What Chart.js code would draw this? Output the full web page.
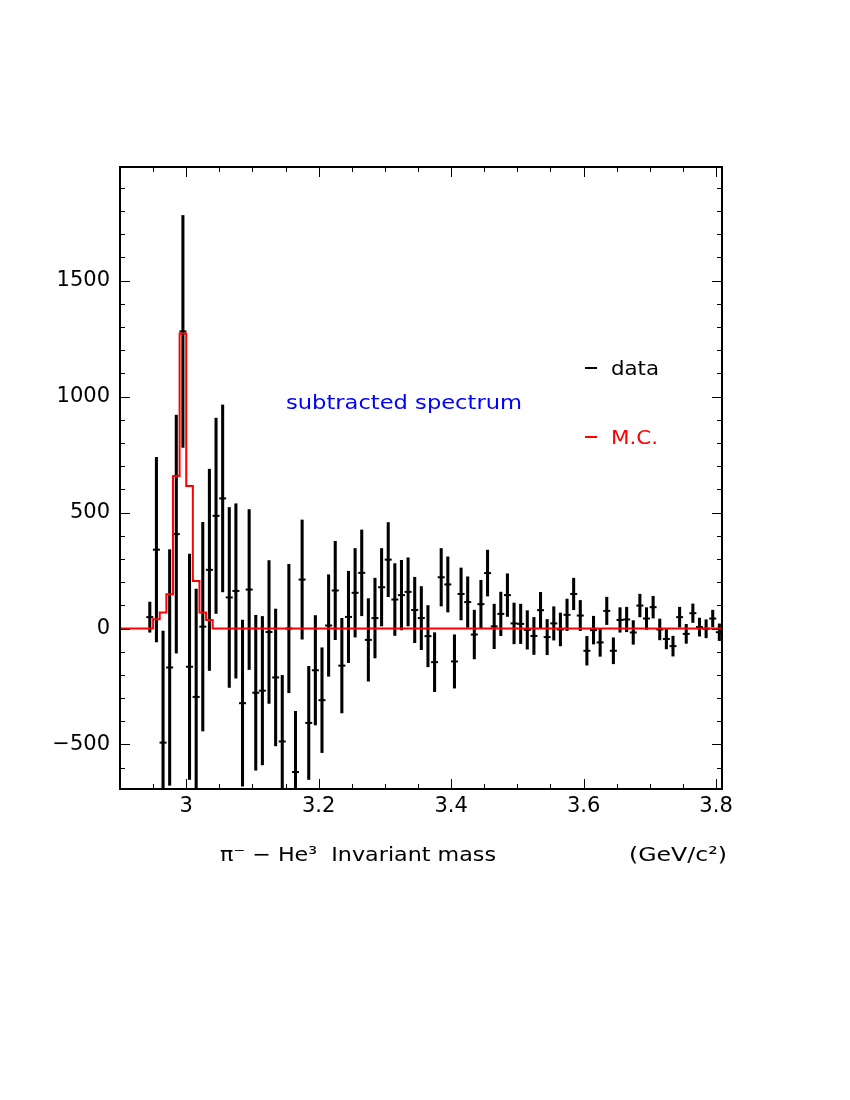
<!DOCTYPE html>
<html><head><meta charset="utf-8">
<script src="https://cdn.jsdelivr.net/npm/chart.js@4.4.1/dist/chart.umd.min.js"></script>
<style>html,body{margin:0;padding:0;background:#fff}canvas{display:block}</style>
</head><body>
<canvas id="c" width="850" height="1100" style="width:850px;height:1100px"></canvas>
<script>
// ---- data ----
const massBins = [2.945,2.955,2.965,2.975,2.985,2.995,3.005,3.015,3.025,3.035,3.045,3.055,3.065,3.075,3.085,3.095,3.105,3.115,3.125,3.135,3.145,3.155,3.165,3.175,3.185,3.195,3.205,3.215,3.225,3.235,3.245,3.255,3.265,3.275,3.285,3.295,3.305,3.315,3.325,3.335,3.345,3.355,3.365,3.375,3.385,3.395,3.405,3.415,3.425,3.435,3.445,3.455,3.465,3.475,3.485,3.495,3.505,3.515,3.525,3.535,3.545,3.555,3.565,3.575,3.585,3.595,3.605,3.615,3.625,3.635,3.645,3.655,3.665,3.675,3.685,3.695,3.705,3.715,3.725,3.735,3.745,3.755,3.765,3.775,3.785,3.795,3.805];
const dataValues = [49,340,-492,-168,407,1281,-165,-295,8,253,486,561,134,162,-322,168,-277,-268,-15,-211,-487,0,-619,211,-407,-180,-309,13,164,-160,50,154,240,-49,45,178,297,125,144,158,80,45,-33,-145,221,190,-142,149,114,-26,105,239,9,63,144,22,20,-6,-32,79,-37,22,-4,59,149,56,-96,-7,-60,76,-96,37,39,-17,99,43,92,-4,-45,-76,49,-23,66,6,-1,43,-16];
const dataErrors = [65,398,481,508,513,500,486,465,450,434,421,403,388,376,358,345,334,320,308,295,285,277,262,257,244,236,226,219,212,204,197,191,185,178,172,167,160,155,150,147,141,136,132,127,124,119,115,112,109,105,103,99,96,94,92,88,85,83,80,77,76,72,71,68,68,65,62,60,60,59,56,53,53,51,49,47,47,45,43,43,43,41,40,39,39,36,36];
const mcEdges  = [2.90,2.95,2.96,2.97,2.98,2.99,3.00,3.01,3.02,3.03,3.04,3.81];
const mcValues = [0,40,69,148,658,1272,615,205,69,37,0,0];
const xTickLabels = [3,3.2,3.4,3.6,3.8];
const yTickLabels = [-500,0,500,1000,1500];
const xRange = [2.9,3.809];
const yRange = [-692,1990];

const FONT = '"DejaVu Sans", "Liberation Sans", sans-serif';

const errBars = massBins.map((m,i)=>({x:m, y:[dataValues[i]-dataErrors[i], dataValues[i]+dataErrors[i]]}));
const centers = massBins.map((m,i)=>({x:m, y:dataValues[i]}));
const mcData = mcEdges.map((e,i)=>({x:e, y:mcValues[i]}));

const framePlugin = {
  id:'frame',
  afterDraw(chart){
    const {ctx, chartArea:a, scales:{x,y}} = chart;
    ctx.save();
    ctx.strokeStyle = '#000';
    ctx.lineWidth = 1;
    ctx.beginPath();
    for (let k=0;k<=18;k++){
      const v = 2.9 + k*0.05;
      const px = Math.round(x.getPixelForValue(v))+0.5;
      const major = xTickLabels.some(t=>Math.abs(t-v)<1e-6);
      const len = major?10:5;
      ctx.moveTo(px,a.bottom); ctx.lineTo(px,a.bottom-len);
      ctx.moveTo(px,a.top); ctx.lineTo(px,a.top+len);
    }
    for (let v=-600; v<=1900; v+=100){
      const py = Math.round(y.getPixelForValue(v))+0.5;
      const major = yTickLabels.includes(v);
      const len = major?10:5;
      ctx.moveTo(a.left,py); ctx.lineTo(a.left+len,py);
      ctx.moveTo(a.right,py); ctx.lineTo(a.right-len,py);
    }
    ctx.stroke();
    ctx.lineWidth = 2;
    ctx.strokeRect(a.left, a.top, a.right-a.left, a.bottom-a.top);

    function txt(s, x0, y0, color, size, width){
      ctx.font = size+'px '+FONT;
      ctx.fillStyle = color;
      ctx.textBaseline = 'alphabetic';
      ctx.textAlign = 'left';
      const w = ctx.measureText(s).width;
      ctx.save();
      ctx.translate(x0,y0);
      ctx.scale(width? width/w : 1, 1);
      ctx.fillText(s,0,0);
      ctx.restore();
    }
    txt('subtracted spectrum', 286, 409, '#0000ff', 20, 236);
    ctx.lineWidth = 2;
    ctx.strokeStyle = '#000';
    ctx.beginPath(); ctx.moveTo(585,368); ctx.lineTo(597,368); ctx.stroke();
    txt('data', 611, 375, '#000', 20, 48);
    ctx.strokeStyle = '#ff0000';
    ctx.beginPath(); ctx.moveTo(585,437); ctx.lineTo(597,437); ctx.stroke();
    txt('M.C.', 611, 444, '#ff0000', 20, 47);
    txt('\u03C0\u207B \u2212 He\u00B3  Invariant mass', 220, 861, '#000', 20, 276);
    txt('(GeV/c\u00B2)', 629, 861, '#000', 20, 98);
    ctx.restore();
  }
};

new Chart(document.getElementById('c'), {
  data:{
    datasets:[
      {type:'line', label:'M.C.', data:mcData, stepped:'before', borderColor:'#ff0000', borderWidth:2, pointRadius:0, fill:false, order:0},
      {type:'scatter', label:'data', data:centers, pointStyle:'line', pointRadius:3.5, borderColor:'#000', backgroundColor:'#000', pointBorderWidth:2, pointHoverRadius:3.5, order:1},
      {type:'bar', label:'err', data:errBars, backgroundColor:'#000', borderWidth:0, barThickness:2.4, borderSkipped:false, order:2}
    ]
  },
  options:{
    responsive:false, animation:false, devicePixelRatio:1,
    layout:{padding:{left:50, right:128, top:167, bottom:271}},
    plugins:{legend:{display:false}, tooltip:{enabled:false}},
    scales:{
      x:{type:'linear', min:xRange[0], max:xRange[1], offset:false,
         grid:{display:false, drawTicks:false}, border:{display:false},
         afterFit(s){ s.height = 40; },
         afterBuildTicks(s){ s.ticks = xTickLabels.map(v=>({value:v})); },
         ticks:{padding:5, color:'#000', font:{family:FONT, size:21},
                callback:v=> String(Math.round(v*100)/100)}},
      y:{type:'linear', min:yRange[0], max:yRange[1],
         grid:{display:false, drawTicks:false}, border:{display:false},
         afterFit(s){ s.width = 70; },
         afterBuildTicks(s){ s.ticks = yTickLabels.map(v=>({value:v})); },
         ticks:{padding:10, color:'#000', font:{family:FONT, size:21},
                callback:v=> String(Math.round(v)).replace('-', '\u2212')}}
    }
  },
  plugins:[framePlugin]
});
</script>
</body></html>
